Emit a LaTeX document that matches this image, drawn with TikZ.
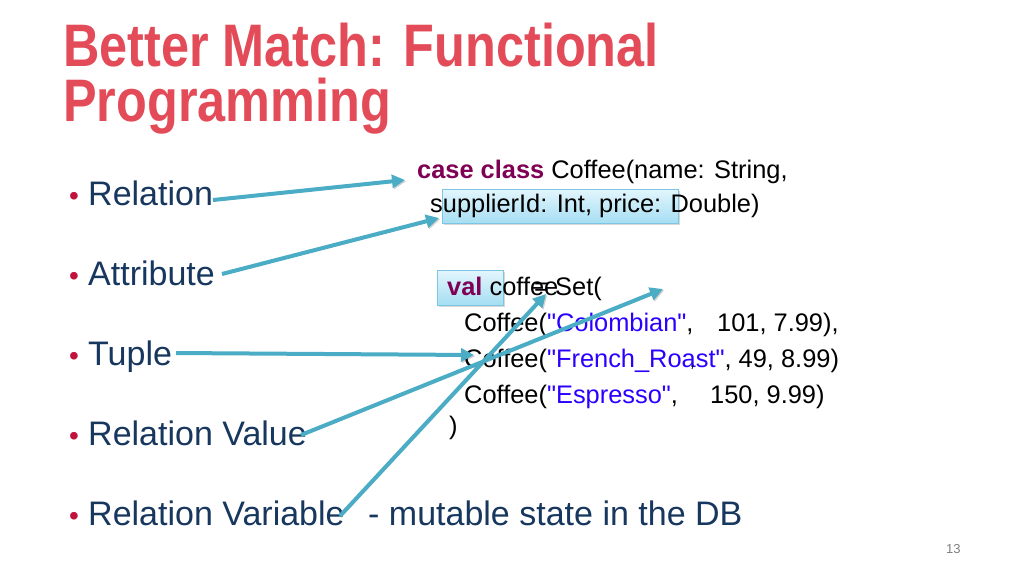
\documentclass[tikz,border=0pt]{standalone}
\usepackage{fontspec}
\setmainfont[Ligatures=TeXOff]{Liberation Sans}
\newfontfamily\titlefont[FakeStretch=0.84]{Liberation Sans}
\usetikzlibrary{arrows.meta,shadows}
\definecolor{titlered}{HTML}{E24B57}
\definecolor{bodyblue}{HTML}{17375E}
\definecolor{bulletred}{HTML}{C0143C}
\definecolor{kw}{HTML}{7F0055}
\definecolor{str}{HTML}{2A00FF}
\definecolor{arrowc}{HTML}{4BACC6}
\definecolor{boxtop}{HTML}{E3F6FD}
\definecolor{boxbot}{HTML}{A6DEF3}
\definecolor{boxline}{HTML}{7CC6E3}
\begin{document}
\begin{tikzpicture}[x=1pt,y=-1pt,
 title/.style={anchor=base west,inner sep=0,text=titlered,font=\titlefont\bfseries\fontsize{60}{60}\selectfont},
 bul/.style={anchor=base west,inner sep=0,text=bodyblue,font=\fontsize{34}{34}\selectfont},
 dot/.style={anchor=base west,inner sep=0,text=bulletred,font=\fontsize{28}{28}\selectfont},
 code/.style={anchor=base west,inner sep=0,text=black,font=\fontsize{25.4}{30}\selectfont},
 hl/.style={draw=boxline,line width=1pt,top color=boxtop,bottom color=boxbot,drop shadow={shadow xshift=2pt,shadow yshift=-2pt,opacity=0.3}},
 link/.style={draw=arrowc,line width=4pt,-{Triangle[length=13pt,width=13pt]},
   preaction={draw=black,opacity=0.18,transform canvas={xshift=1.2pt,yshift=-1.2pt}}}
]
\fill[white] (0,0) rectangle (1024,576);
\useasboundingbox (0,0) rectangle (1024,576);

% title
\node[title] (t1) at (63,66) {Better Match: Functional};
\node[title] (t2) at (63,121) {Programming};

% bullets
\node[dot] (d1) at (69,205) {•};
\node[bul] (b1) at (88,205) {Relation};
\node[dot] (d2) at (69,285) {•};
\node[bul] (b2) at (88,285) {Attribute};
\node[dot] (d3) at (69,365) {•};
\node[bul] (b3) at (88,365) {Tuple};
\node[dot] (d4) at (69,445) {•};
\node[bul] (b4) at (88,445) {Relation Value};
\node[dot] (d5) at (69,525) {•};
\node[bul] (b5) at (88,525) {Relation Variable};
\node[bul] (b6) at (368,525) {-~mutable state in the DB};

% highlight boxes
\path[hl] (442,189) rectangle (678,223);
\path[hl] (437,270) rectangle (503,305);

% code
\node[code] (c1) at (417,178) {\textcolor{kw}{\bfseries case class} Coffee(name: String,};
\node[code] (c2) at (430,212) {supplierId: Int, price: Double)};
\node[code] (c3) at (447,295) {\textcolor{kw}{\bfseries val} coffee};
\node[code] (c3eq) at (534,295) {=};
\node[code] (c3s) at (555,295) {Set(};
\node[code] (c4) at (464,331) {Coffee(\textcolor{str}{"Colombian"},};
\node[code] (c4n) at (717,331) {101, 7.99),};
\node[code] (c5) at (464,367) {Coffee(\textcolor{str}{"French\_Roast"}, 49, 8.99)};
\node[code] (c5c) at (690,367) {\fontsize{16}{16}\selectfont ,};
\node[code] (c6) at (464,403) {Coffee(\textcolor{str}{"Espresso"},};
\node[code] (c6n) at (710,403) {150, 9.99)};
\node[code] (c7) at (449,434) {)};

% slide number
\node[anchor=base west,inner sep=0,text=black!50,font=\fontsize{13}{13}\selectfont] (num) at (946,553) {13};

% arrow ends
\coordinate (r0) at (213,200); \coordinate (r1) at (405,180);
\coordinate (a0) at (222,274); \coordinate (a1) at (439,218);
\coordinate (u0) at (176,353); \coordinate (u1) at (474,355);
\coordinate (v0) at (301,435); \coordinate (v1) at (663,289);
\coordinate (w0) at (340,516); \coordinate (w1) at (546,294);

\draw[link] (r0) -- (r1);
\draw[link] (a0) -- (a1);
\draw[link] (u0) -- (u1);
\draw[link] (v0) -- (v1);
\draw[link] (w0) -- (w1);
\end{tikzpicture}
\end{document}
